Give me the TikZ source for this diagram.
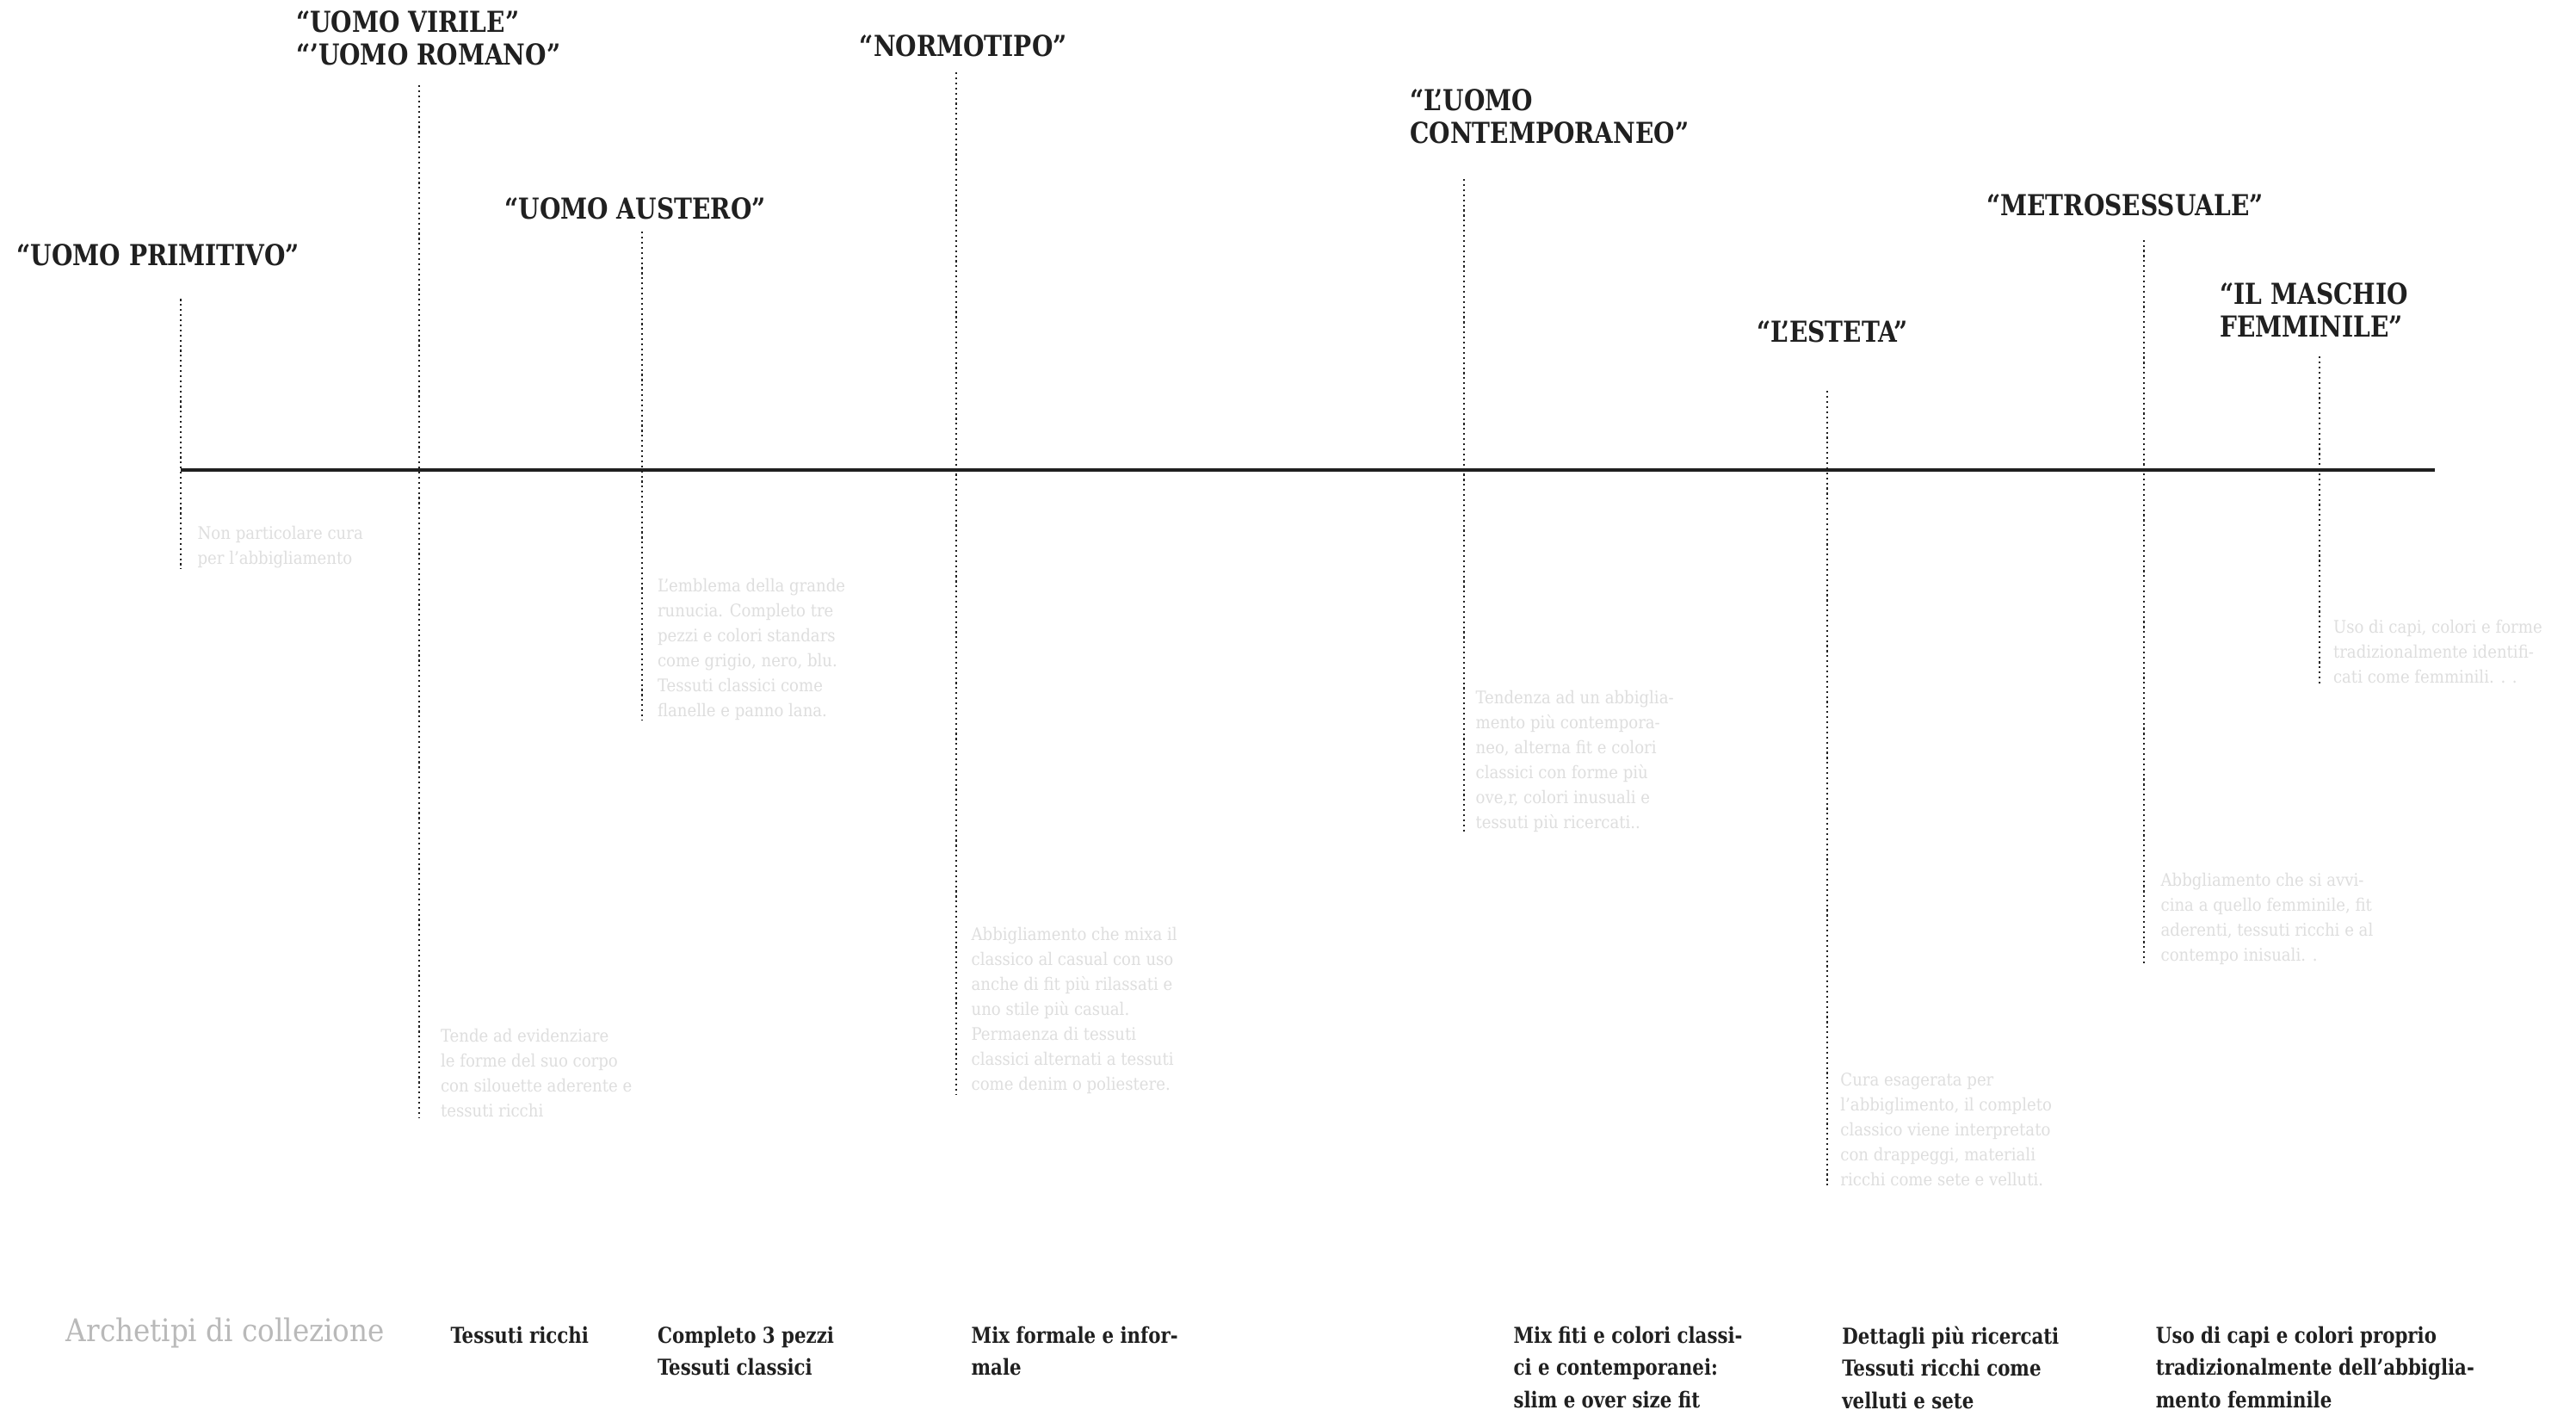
\documentclass[tikz,border=0pt]{standalone}
\usepackage{fontspec}
\usepackage{xcolor}
\usepackage{tikz}
\setmainfont{DejaVu Serif Condensed}
\newfontfamily\headfont{DejaVu Serif Condensed}[FakeStretch=0.93]
\definecolor{ink}{RGB}{32,32,32}
\definecolor{faint}{RGB}{222,222,222}
\definecolor{softgray}{RGB}{185,185,185}

\begin{document}
\begin{tikzpicture}[x=0.25mm, y=-0.25mm,
  archetype/.style = {font=\headfont\bfseries\fontsize{12.5}{14.2}\selectfont, text=ink, align=left, anchor=west, inner sep=0pt},
  note/.style = {font=\fontsize{7.5}{10.8}\selectfont, text=faint, align=left, anchor=north west, inner sep=0pt},
  trait/.style = {font=\headfont\bfseries\fontsize{9.5}{14}\selectfont, text=ink, align=left, anchor=north west, inner sep=0pt},
  stem/.style = {line width=0.8pt, ink, dash pattern=on 0.8pt off 1.4pt},
  timeline/.style = {line width=1.7pt, ink}]
\path[use as bounding box, fill=white] (0,0) rectangle (1568,858);

\coordinate (start) at (110,286);
\coordinate (end) at (1482,286);
\draw[timeline] (start) -- (end);

\node[archetype] (primitivo) at (10,155) {“UOMO PRIMITIVO”};
\node[archetype] (virile) at (180,23) {“UOMO VIRILE”\\“’UOMO ROMANO”};
\node[archetype] (austero) at (307,127) {“UOMO AUSTERO”};
\node[archetype] (normotipo) at (523,28) {“NORMOTIPO”};
\node[archetype] (contemp) at (858,71) {“L’UOMO\\CONTEMPORANEO”};
\node[archetype] (esteta) at (1069,202) {“L’ESTETA”};
\node[archetype] (metro) at (1209,125) {“METROSESSUALE”};
\node[archetype] (maschio) at (1351,188.5) {“IL MASCHIO\\FEMMINILE”};

\node[note] (primitivo-note) at (120,320) {Non particolare cura\\per l’abbigliamento};
\node[note] (virile-note) at (268,626) {Tende ad evidenziare\\le forme del suo corpo\\con silouette aderente e\\tessuti ricchi};
\node[note] (austero-note) at (400,352) {L’emblema della grande\\runucia. Completo tre\\pezzi e colori standars\\come grigio, nero, blu.\\Tessuti classici come\\flanelle e panno lana.};
\node[note] (normotipo-note) at (591,564) {Abbigliamento che mixa il\\classico al casual con uso\\anche di fit più rilassati e\\uno stile più casual.\\Permaenza di tessuti\\classici alternati a tessuti\\come denim o poliestere.};
\node[note] (contemp-note) at (898,420) {Tendenza ad un abbiglia-\\mento più contempora-\\neo, alterna fit e colori\\classici con forme più\\ove,r, colori inusuali e\\tessuti più ricercati..};
\node[note] (esteta-note) at (1120,653) {Cura esagerata per\\l’abbiglimento, il completo\\classico viene interpretato\\con drappeggi, materiali\\ricchi come sete e velluti.};
\node[note] (metro-note) at (1315,531) {Abbgliamento che si avvi-\\cina a quello femminile, fit\\aderenti, tessuti ricchi e al\\contempo inisuali. .};
\node[note] (maschio-note) at (1420,377) {Uso di capi, colori e forme\\tradizionalmente identifi-\\cati come femminili. . .};

\coordinate (primitivo-top) at (110,182);
\coordinate (virile-top) at (255,52);
\coordinate (austero-top) at (391,141);
\coordinate (normotipo-top) at (582,44);
\coordinate (contemp-top) at (891,109);
\coordinate (esteta-top) at (1112,238);
\coordinate (metro-top) at (1305,146);
\coordinate (maschio-top) at (1412,217);

\draw[stem] (primitivo-top) -- (primitivo-top |- primitivo-note.south);
\draw[stem] (virile-top) -- (virile-top |- virile-note.south);
\draw[stem] (austero-top) -- (austero-top |- austero-note.south);
\draw[stem] (normotipo-top) -- (normotipo-top |- normotipo-note.south);
\draw[stem] (contemp-top) -- (contemp-top |- contemp-note.south);
\draw[stem] (esteta-top) -- (esteta-top |- esteta-note.south);
\draw[stem] (metro-top) -- (metro-top |- metro-note.south);
\draw[stem] (maschio-top) -- (maschio-top |- maschio-note.south);

\node[font=\fontsize{13.5}{15}\selectfont, text=softgray, anchor=west, inner sep=0pt] (legend) at (40,811) {Archetipi di collezione};
\node[trait] (virile-trait) at (274,807) {Tessuti ricchi};
\node[trait] (austero-trait) at (400,807) {Completo 3 pezzi\\Tessuti classici};
\node[trait] (normotipo-trait) at (591,807) {Mix formale e infor-\\male};
\node[trait] (contemp-trait) at (921,807) {Mix fiti e colori classi-\\ci e contemporanei:\\slim e over size fit};
\node[trait] (esteta-trait) at (1121,807) {Dettagli più ricercati\\Tessuti ricchi come\\velluti e sete};
\node[trait] (maschio-trait) at (1312,807) {Uso di capi e colori proprio\\tradizionalmente dell’abbiglia-\\mento femminile};

\end{tikzpicture}
\end{document}
